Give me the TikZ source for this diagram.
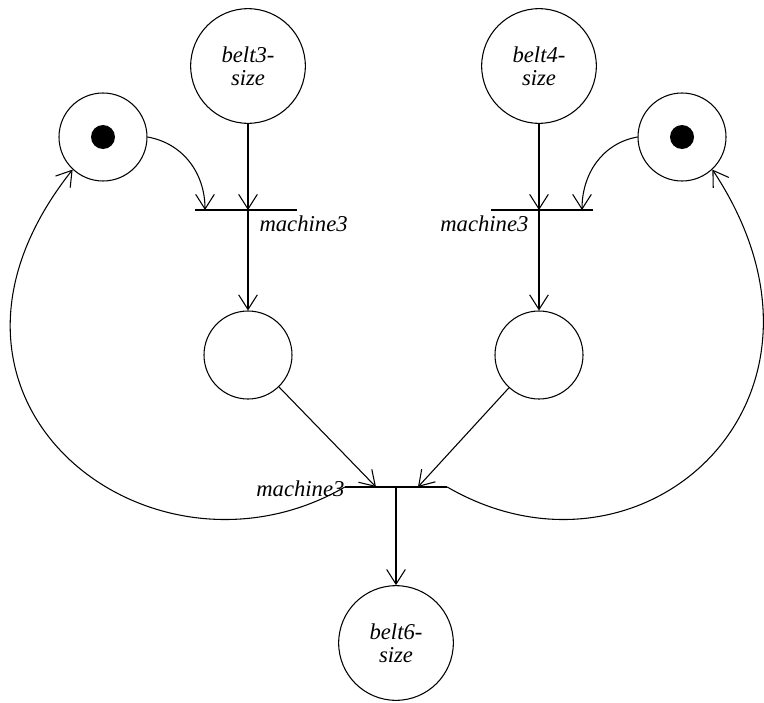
\documentclass[tikz,border=0pt]{standalone}
\usepackage{fontspec}
\setmainfont{Liberation Serif}
\usetikzlibrary{arrows.meta}
\tikzset{
  place/.style={draw, circle, minimum size=66pt, inner sep=0pt},
  bigplace/.style={draw, circle, minimum size=86pt, inner sep=0pt, align=center,
    font=\itshape\fontsize{17}{17}\selectfont},
  token/.style={circle, fill=black, minimum size=18pt, inner sep=0pt},
  tbar/.style={minimum width=76pt, minimum height=0pt, inner sep=0pt},
  lbl/.style={font=\itshape\fontsize{17}{17}\selectfont, inner sep=0pt},
  arc/.style={-{Straight Barb[length=11pt,width=14pt]}}
}
\begin{document}
\begin{tikzpicture}[x=0.75pt,y=-0.75pt,line width=0.8pt]
      \useasboundingbox (0,0) rectangle (764,703);
      \draw
        (248,66) node[bigplace] (b3){belt3-\\size}
        (539,66) node[bigplace] (b4){belt4-\\size}
        (103,137) node[place] (pL){}
        (682,137) node[place] (pR){}
        (248,355) node[place] (mL){}
        (539,355) node[place] (mR){}
        (396,643) node[bigplace] (b6){belt6-\\size};
      \node[token] (kL) at (pL) {};
      \node[token] (kR) at (pR) {};
      % transitions
      \node[tbar] (tL) at (246,210) {};
      \node[tbar] (tR) at (542,210) {};
      \node[tbar] (tB) at (396,487) {};
      \draw (tL.west) -- (tL.east);
      \draw (tR.west) -- (tR.east);
      \draw (tB.west) -- (tB.east);
      \coordinate (tLk) at (205,210);
      \coordinate (tRk) at (582,210);
      \coordinate (tBl) at (376,487);
      \coordinate (tBr) at (418,487);
      \node[lbl, anchor=west] (lL) at (259,224) {machine3};
      \node[lbl, anchor=east] (lR) at (529,224) {machine3};
      \node[lbl, anchor=east] (lB) at (345,489) {machine3};
      \begin{scope}[arc]
        \draw (b3) -- (b3 |- tL);
        \draw (b3 |- tL) -- (mL);
        \draw (b4) -- (b4 |- tR);
        \draw (b4 |- tR) -- (mR);
        \draw (pL.east) to[out=-10,in=90] (tLk);
        \draw (pR.west) to[out=190,in=90] (tRk);
        \draw (mL) -- (tBl);
        \draw (mR) -- (tBr);
        \draw (tB) -- (b6);
        \draw (tB.west) .. controls (150,600) and (-110,400) .. (pL.227);
        \draw (tB.east) .. controls (642,600) and (865,400) .. (pR.-47);
      \end{scope}
    \end{tikzpicture}
\end{document}
